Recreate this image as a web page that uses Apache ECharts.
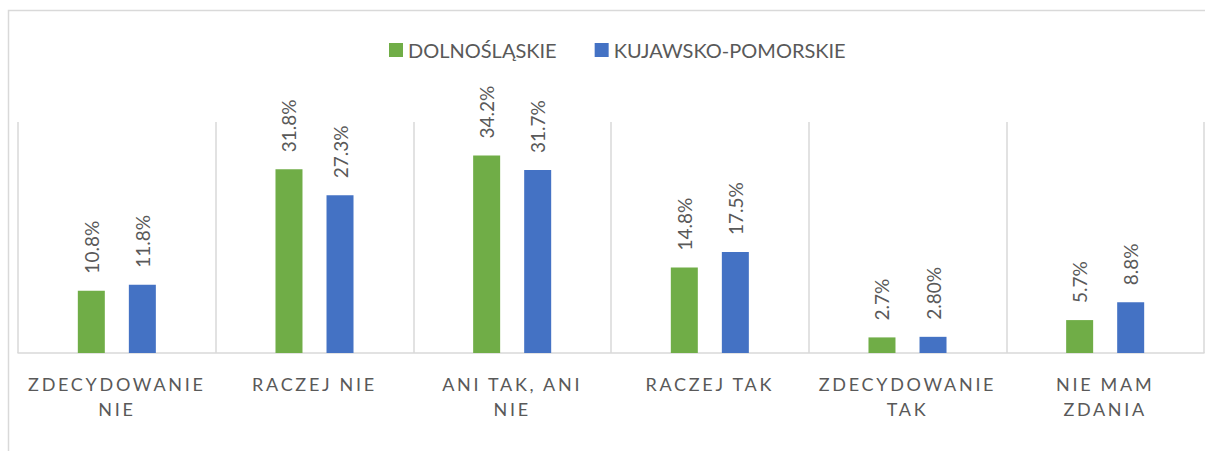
<!DOCTYPE html>
<html>
<head>
<meta charset="utf-8">
<script src="https://cdn.jsdelivr.net/npm/echarts@6/dist/echarts.min.js"></script>
<style>
  html, body { margin: 0; padding: 0; background: #fff; }
  #chart { width: 1205px; height: 451px; }
</style>
</head>
<body>
<div id="chart"></div>
<script>
// dane
var categories = ['ZDECYDOWANIE NIE', 'RACZEJ NIE', 'ANI TAK, ANI NIE', 'RACZEJ TAK', 'ZDECYDOWANIE TAK', 'NIE MAM ZDANIA'];
var seriesNames = ['DOLNOŚLĄSKIE', 'KUJAWSKO-POMORSKIE'];
var dolnoslaskie = [10.8, 31.8, 34.2, 14.8, 2.7, 5.7];
var kujawsko = [11.8, 27.3, 31.7, 17.5, 2.8, 8.8];
var dolnoslaskieLabels = ['10.8%', '31.8%', '34.2%', '14.8%', '2.7%', '5.7%'];
var kujawskoLabels = ['11.8%', '27.3%', '31.7%', '17.5%', '2.80%', '8.8%'];

var FONT = 'Lato';
var GREY = '#595959';
var LINE = '#d9d9d9';
var LETTER_SPACING = 2.7;

var chart = echarts.init(document.getElementById('chart'), null, { renderer: 'svg' });

// etykieta nad slupkiem, obrocona pionowo
function barLabel(texts) {
  return {
    show: true,
    position: 'top',
    rotate: 90,
    align: 'left',
    verticalAlign: 'middle',
    distance: 17,
    color: GREY,
    fontFamily: FONT,
    fontSize: 19,
    formatter: function (p) { return texts[p.dataIndex]; }
  };
}

// dlugie nazwy lamane na ostatniej spacji
function wrapName(name) {
  if (name.length <= 12) return name;
  var i = name.lastIndexOf(' ');
  return name.slice(0, i) + '\n' + name.slice(i + 1);
}

var option = {
  animation: false,
  backgroundColor: '#fff',
  graphic: [{
    type: 'rect',
    shape: { x: 8.5, y: 10.5, width: 1300, height: 600 },
    style: { fill: 'none', stroke: LINE, lineWidth: 1.5 },
    silent: true
  }],
  legend: {
    data: seriesNames,
    left: 389,
    top: 40,
    padding: 0,
    icon: 'rect',
    itemWidth: 14,
    itemHeight: 14,
    itemGap: 38,
    textStyle: { color: GREY, fontFamily: FONT, fontSize: 20 }
  },
  grid: { left: 18, right: 1, top: 122, bottom: 98, containLabel: false },
  xAxis: {
    type: 'category',
    data: categories,
    axisLine: { lineStyle: { color: LINE, width: 1.5 } },
    axisTick: { show: false },
    splitLine: { show: true, lineStyle: { color: LINE, width: 1.5 } },
    axisLabel: {
      color: GREY,
      fontFamily: FONT,
      fontSize: 18,
      lineHeight: 25,
      margin: 18,
      interval: 0,
      formatter: wrapName
    }
  },
  yAxis: {
    type: 'value',
    min: 0,
    max: 40,
    show: false,
    splitLine: { show: false }
  },
  series: [{
    name: seriesNames[0],
    type: 'bar',
    data: dolnoslaskie,
    barWidth: 27,
    barGap: '89%',
    itemStyle: { color: '#70AD47' },
    label: barLabel(dolnoslaskieLabels)
  }, {
    name: seriesNames[1],
    type: 'bar',
    data: kujawsko,
    barWidth: 27,
    barGap: '89%',
    itemStyle: { color: '#4472C4' },
    label: barLabel(kujawskoLabels)
  }]
};
chart.setOption(option);

// rozstrzelone litery w etykietach osi
var axisLines = [];
categories.forEach(function (c) { wrapName(c).split('\n').forEach(function (l) { axisLines.push(l); }); });
function spaceLetters() {
  var texts = document.querySelectorAll('#chart svg text');
  texts.forEach(function (t) {
    if (axisLines.indexOf(t.textContent) >= 0) {
      t.style.letterSpacing = LETTER_SPACING + 'px';
    }
  });
}
chart.on('finished', spaceLetters);
spaceLetters();
</script>
</body>
</html>
